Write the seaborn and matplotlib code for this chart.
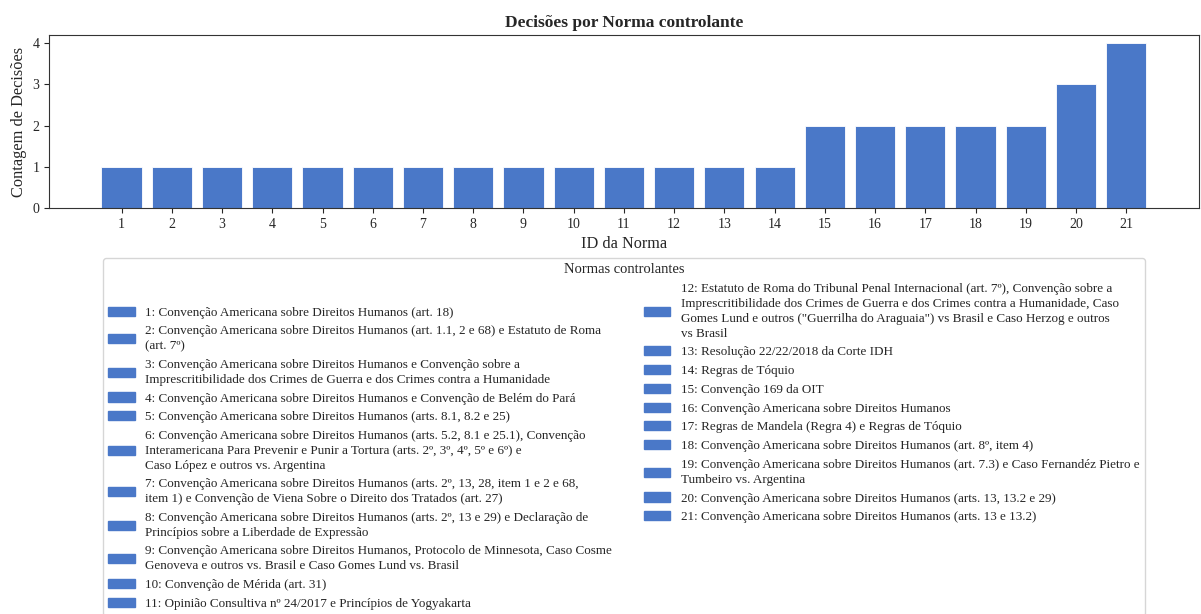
import pandas as pd
import seaborn as sns
import matplotlib.pyplot as plt

# dados: id da norma, contagem de decisoes, descricao
ids_norma = list(range(1, 22))
contagens = [1, 1, 1, 1, 1, 1, 1, 1, 1, 1, 1, 1, 1, 1, 2, 2, 2, 2, 2, 3, 4]
normas = [
    "Convenção Americana sobre Direitos Humanos (art. 18)",
    "Convenção Americana sobre Direitos Humanos (art. 1.1, 2 e 68) e Estatuto de Roma\n(art. 7º)",
    "Convenção Americana sobre Direitos Humanos e Convenção sobre a\nImprescritibilidade dos Crimes de Guerra e dos Crimes contra a Humanidade",
    "Convenção Americana sobre Direitos Humanos e Convenção de Belém do Pará",
    "Convenção Americana sobre Direitos Humanos (arts. 8.1, 8.2 e 25)",
    "Convenção Americana sobre Direitos Humanos (arts. 5.2, 8.1 e 25.1), Convenção\nInteramericana Para Prevenir e Punir a Tortura (arts. 2º, 3º, 4º, 5º e 6º) e\nCaso López e outros vs. Argentina",
    "Convenção Americana sobre Direitos Humanos (arts. 2º, 13, 28, item 1 e 2 e 68,\nitem 1) e Convenção de Viena Sobre o Direito dos Tratados (art. 27)",
    "Convenção Americana sobre Direitos Humanos (arts. 2º, 13 e 29) e Declaração de\nPrincípios sobre a Liberdade de Expressão",
    "Convenção Americana sobre Direitos Humanos, Protocolo de Minnesota, Caso Cosme\nGenoveva e outros vs. Brasil e Caso Gomes Lund vs. Brasil",
    "Convenção de Mérida (art. 31)",
    "Opinião Consultiva nº 24/2017 e Princípios de Yogyakarta",
    "Estatuto de Roma do Tribunal Penal Internacional (art. 7º), Convenção sobre a\nImprescritibilidade dos Crimes de Guerra e dos Crimes contra a Humanidade, Caso\nGomes Lund e outros (\"Guerrilha do Araguaia\") vs Brasil e Caso Herzog e outros\nvs Brasil",
    "Resolução 22/22/2018 da Corte IDH",
    "Regras de Tóquio",
    "Convenção 169 da OIT",
    "Convenção Americana sobre Direitos Humanos",
    "Regras de Mandela (Regra 4) e Regras de Tóquio",
    "Convenção Americana sobre Direitos Humanos (art. 8º, item 4)",
    "Convenção Americana sobre Direitos Humanos (art. 7.3) e Caso Fernandéz Pietro e\nTumbeiro vs. Argentina",
    "Convenção Americana sobre Direitos Humanos (arts. 13, 13.2 e 29)",
    "Convenção Americana sobre Direitos Humanos (arts. 13 e 13.2)",
]

df = pd.DataFrame({"id": ids_norma, "n": contagens, "norma": normas})

sns.set_style("ticks")
plt.rcParams["font.family"] = ["Liberation Serif", "DejaVu Serif"]

fig, ax = plt.subplots(figsize=(12.01, 6.14), dpi=100)
fig.subplots_adjust(left=0.041, right=0.998, top=0.943, bottom=0.661)

cor = "#4a78c8"
sns.barplot(data=df, x="id", y="n", native_scale=True, color=cor,
            saturation=1, edgecolor="white", linewidth=0.6, ax=ax)
ax.set_xticks(ids_norma)
ax.set_xticklabels([str(i) for i in ids_norma])
ax.set_yticks([0, 1, 2, 3, 4])
ax.set_ylim(0, 4.2)
ax.set_xlim(-0.44, 22.44)
ax.tick_params(labelsize=10)
for s in ax.spines.values():
    s.set_color("#333333")

ax.set_title("Decisões por Norma controlante", fontsize=12.5, fontweight="bold")
ax.set_xlabel("ID da Norma", fontsize=11.7)
ax.set_ylabel("Contagem de Decisões", fontsize=11.8)

# legenda com a descricao de cada norma
handles = [plt.Rectangle((0, 0), 1, 1, color=cor) for _ in ids_norma]
rotulos = [f"{i}: {t}" for i, t in zip(df["id"], df["norma"])]
leg = ax.legend(handles, rotulos, title="Normas controlantes", ncol=2,
                loc="upper center", bbox_to_anchor=(0.5, -0.25),
                fontsize=9.45, title_fontsize=10.5, columnspacing=2.45,
                labelspacing=0.5)
for t in leg.get_texts():
    t.set_linespacing(1.33)

fig.savefig("out.png", dpi=100)
